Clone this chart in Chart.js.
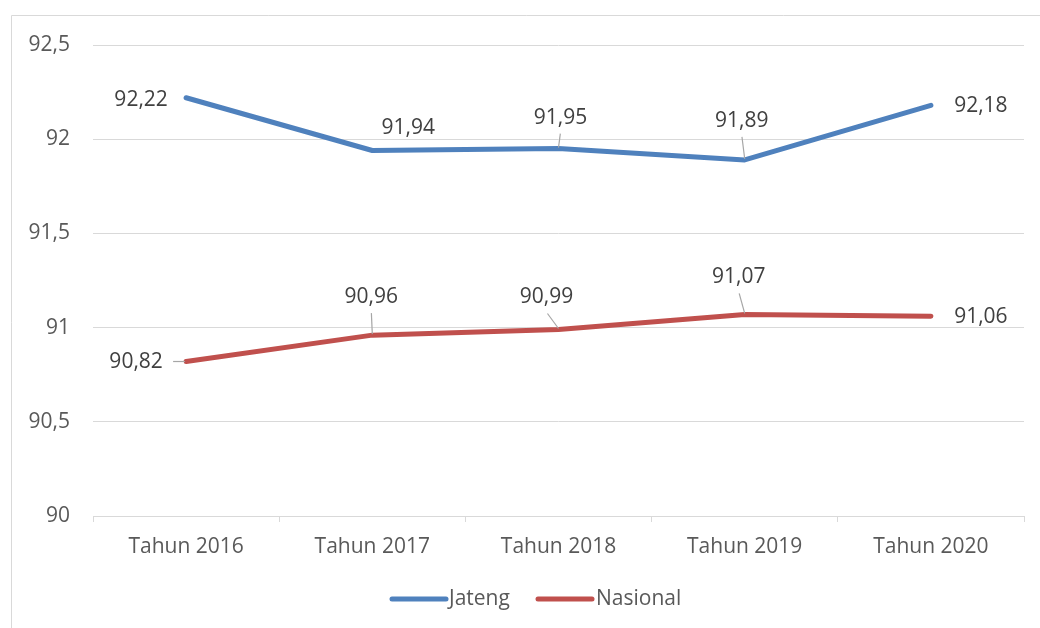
<!DOCTYPE html>
<html>
<head>
<meta charset="utf-8">
<script src="https://cdn.jsdelivr.net/npm/chart.js@4.4.1/dist/chart.umd.min.js"></script>
<style>
  html, body { margin: 0; padding: 0; background: #ffffff; }
  #wrap { position: relative; width: 1040px; height: 628px; }
</style>
</head>
<body>
<div id="wrap"><canvas id="c" width="1040" height="628"></canvas></div>
<script>
// ---- data ----
const categories = ["Tahun 2016", "Tahun 2017", "Tahun 2018", "Tahun 2019", "Tahun 2020"];
const jateng = [92.22, 91.94, 91.95, 91.89, 92.18];
const nasional = [90.82, 90.96, 90.99, 91.07, 91.06];
const seriesNames = ["Jateng", "Nasional"];
const yTicks = [90, 90.5, 91, 91.5, 92, 92.5];

// ---- layout of data labels (offset from point, leader flag) ----
const labelLayout = [
  [[-45, 2, false], [36, -22, false], [2, -31, true], [-3, -39, true], [50, 1, false]],
  [[-50, 1, true], [-1, -38, true], [-12, -32, true], [-6, -37, true], [50, 1, false]]
];

const FONT = '"Open Sans", "Noto Sans", sans-serif';
const fmt = v => String(v).replace('.', ',');

const framePlugin = {
  id: 'frame',
  beforeDraw(chart) {
    const ctx = chart.ctx;
    ctx.save();
    ctx.strokeStyle = '#d9d9d9';
    ctx.lineWidth = 1;
    ctx.beginPath();
    ctx.moveTo(11.5, 640);
    ctx.lineTo(11.5, 15.5);
    ctx.lineTo(1045, 15.5);
    ctx.stroke();
    ctx.restore();
  }
};

const labelPlugin = {
  id: 'dlabels',
  afterDatasetsDraw(chart) {
    const ctx = chart.ctx;
    ctx.save();
    ctx.font = '21px ' + FONT;
    ctx.textAlign = 'center';
    ctx.textBaseline = 'middle';
    chart.data.datasets.forEach((ds, di) => {
      const meta = chart.getDatasetMeta(di);
      meta.data.forEach((pt, i) => {
        const [dx, dy, leader] = labelLayout[di][i];
        const lx = pt.x + dx, ly = pt.y + dy;
        if (leader) {
          ctx.strokeStyle = '#a6a6a6';
          ctx.lineWidth = 1.2;
          ctx.beginPath();
          if (Math.abs(dx) > Math.abs(dy)) {
            ctx.moveTo(lx + 37, pt.y);
            ctx.lineTo(pt.x - 1, pt.y);
          } else {
            ctx.moveTo(lx - dx * 0.08, ly + 16);
            ctx.lineTo(pt.x, pt.y - 1);
          }
          ctx.stroke();
        }
        ctx.fillStyle = '#404040';
        ctx.fillText(fmt(ds.data[i]), lx, ly);
      });
    });
    ctx.restore();
  }
};

const legendPlugin = {
  id: 'customLegend',
  afterDraw(chart) {
    const ctx = chart.ctx;
    ctx.save();
    ctx.font = '21px ' + FONT;
    ctx.textBaseline = 'middle';
    ctx.textAlign = 'left';
    const y = 599;
    const items = [[392, 446, 449], [538, 592, 596]];
    chart.data.datasets.forEach((ds, di) => {
      const [x1, x2, tx] = items[di];
      ctx.strokeStyle = ds.borderColor;
      ctx.lineWidth = 5;
      ctx.lineCap = 'round';
      ctx.beginPath();
      ctx.moveTo(x1, y);
      ctx.lineTo(x2, y);
      ctx.stroke();
      ctx.fillStyle = '#595959';
      ctx.fillText(ds.label, tx, y);
    });
    ctx.restore();
  }
};

new Chart(document.getElementById('c'), {
  type: 'line',
  data: {
    labels: categories,
    datasets: [
      { label: seriesNames[0], data: jateng, borderColor: '#4F81BD', backgroundColor: '#4F81BD',
        borderWidth: 5, borderCapStyle: 'round', borderJoinStyle: 'round', pointRadius: 0, tension: 0 },
      { label: seriesNames[1], data: nasional, borderColor: '#C0504D', backgroundColor: '#C0504D',
        borderWidth: 5, borderCapStyle: 'round', borderJoinStyle: 'round', pointRadius: 0, tension: 0 }
    ]
  },
  options: {
    responsive: false,
    animation: false,
    devicePixelRatio: 1,
    layout: { padding: { top: 45, right: 16, left: 0, bottom: 50 } },
    plugins: { legend: { display: false }, tooltip: { enabled: false } },
    scales: {
      x: {
        offset: true,
        grid: { display: true, offset: true, drawOnChartArea: false, drawTicks: true, tickLength: 6, color: '#d9d9d9' },
        border: { display: true, color: '#d9d9d9', width: 1 },
        ticks: { font: { family: FONT, size: 21 }, color: '#595959', padding: 12, maxRotation: 0 },
        afterFit: s => { s.height = 62; }
      },
      y: {
        min: 90, max: 92.5,
        afterBuildTicks: s => { s.ticks = yTicks.map(v => ({ value: v })); },
        grid: { color: '#d9d9d9', lineWidth: 1, drawTicks: false, tickLength: 0 },
        border: { display: false },
        ticks: { font: { family: FONT, size: 21 }, color: '#595959', padding: 23, callback: v => fmt(v) },
        afterFit: s => { s.width = 93; }
      }
    }
  },
  plugins: [framePlugin, labelPlugin, legendPlugin]
});
</script>
</body>
</html>
